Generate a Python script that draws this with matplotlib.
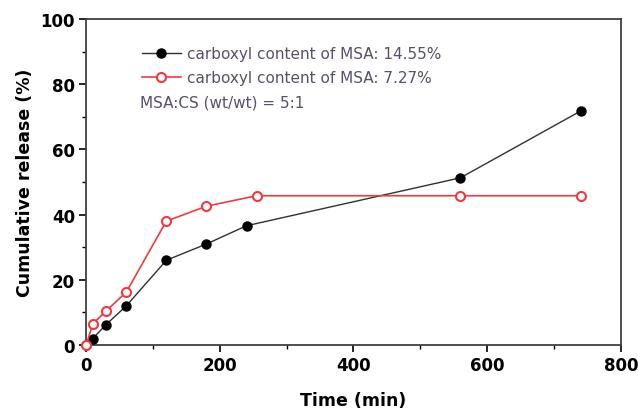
import matplotlib
matplotlib.use("Agg")
import matplotlib.pyplot as plt
from matplotlib.ticker import MultipleLocator

# release data
time_black = [0, 10, 30, 60, 120, 180, 240, 560, 740]
release_black = [0, 2, 6.3, 12, 26, 31, 36.6, 51.3, 71.8]
time_red = [0, 10, 30, 60, 120, 180, 255, 560, 740]
release_red = [0, 6.5, 10.5, 16.2, 38, 42.6, 45.8, 45.8, 45.8]

label_black = "carboxyl content of MSA: 14.55%"
label_red = "carboxyl content of MSA: 7.27%"
note = "MSA:CS (wt/wt) = 5:1"

plt.rcParams["font.family"] = ["DejaVu Sans"]

fig = plt.figure(figsize=(6.38, 4.10), dpi=100)
ax = fig.add_axes([0.135, 0.156, 0.838, 0.795])

ax.plot(time_black, release_black, color="#303030", lw=1.0, marker="o",
        ms=6.5, mfc="black", mec="black", label=label_black, zorder=3,
        clip_on=False)
ax.plot(time_red, release_red, color="#f03a40", lw=1.2, marker="o",
        ms=6.5, mfc="white", mec="#f03a40", mew=1.5, label=label_red, zorder=4,
        clip_on=False)

ax.set_xlim(0, 800)
ax.set_ylim(0, 100)
ax.xaxis.set_major_locator(MultipleLocator(200))
ax.xaxis.set_minor_locator(MultipleLocator(100))
ax.yaxis.set_major_locator(MultipleLocator(20))
ax.yaxis.set_minor_locator(MultipleLocator(10))
ax.tick_params(which="major", direction="out", length=5, width=1.2,
               labelsize=12, pad=3)
ax.tick_params(which="minor", direction="out", length=3, width=1.0)
for lab in ax.get_xticklabels() + ax.get_yticklabels():
    lab.set_fontweight("bold")
for sp in ax.spines.values():
    sp.set_linewidth(1.3)
    sp.set_color("#404040")

ax.set_xlabel("Time (min)", fontsize=12.5, fontweight="bold", labelpad=12)
ax.set_ylabel("Cumulative release (%)", fontsize=12.5, fontweight="bold", labelpad=5)

leg = ax.legend(loc="upper left", bbox_to_anchor=(0.078, 0.96), frameon=False,
                handlelength=2.6, handletextpad=0.4, labelspacing=0.6,
                prop={"size": 11})
for t in leg.get_texts():
    t.set_color("#5a4f6a")
ax.text(0.101, 0.745, note, transform=ax.transAxes, fontsize=11,
        color="#5a4f6a", va="center")

fig.savefig("out.png", dpi=100)
